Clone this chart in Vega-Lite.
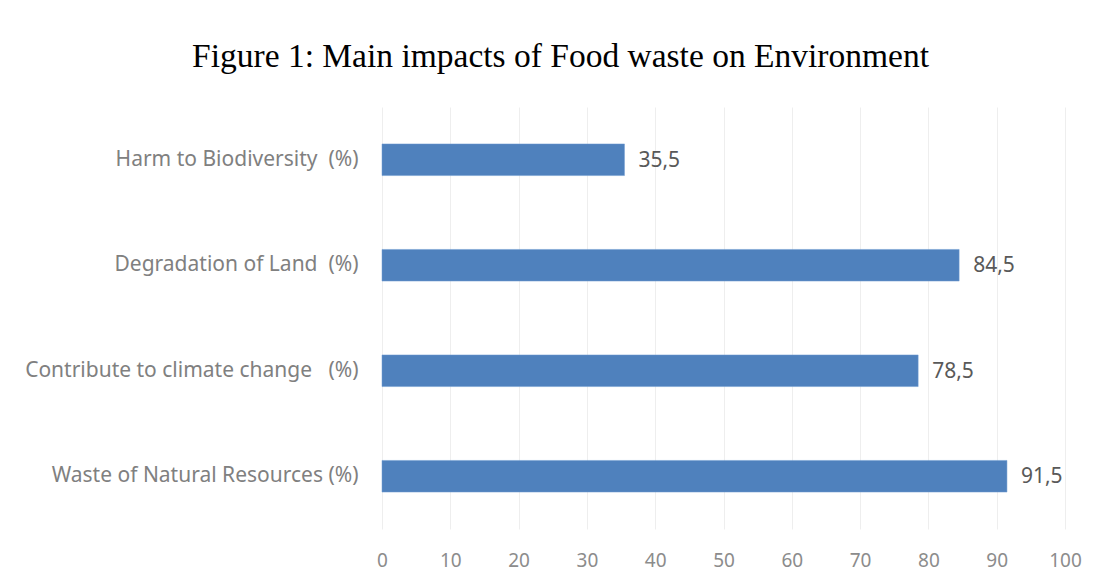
{
  "$schema": "https://vega.github.io/schema/vega-lite/v6.json",
  "width": 683,
  "height": 422,
  "autosize": {"type": "none"},
  "padding": {"left": 382, "top": 107, "right": 32, "bottom": 52},
  "background": "white",
  "config": {
    "view": {"stroke": null},
    "locale": {"number": {"decimal": ",", "thousands": ".", "grouping": [3], "currency": ["", " €"]}}
  },
  "title": {
    "text": "Figure 1: Main impacts of Food waste on Environment",
    "font": "Liberation Serif",
    "fontSize": 33.5,
    "fontWeight": "normal",
    "color": "#000000",
    "anchor": "middle",
    "dx": -163,
    "offset": 33
  },
  "data": {
    "values": [
      {"impact": "Harm to Biodiversity \u00a0(%)", "value": 35.5},
      {"impact": "Degradation of Land \u00a0(%)", "value": 84.5},
      {"impact": "Contribute to climate change \u00a0\u00a0(%)", "value": 78.5},
      {"impact": "Waste of Natural Resources (%)", "value": 91.5}
    ]
  },
  "encoding": {
    "y": {
      "field": "impact",
      "type": "nominal",
      "sort": null,
      "scale": {"paddingInner": 0.7, "paddingOuter": 0.35},
      "axis": {
        "title": null,
        "domain": false,
        "ticks": false,
        "labelPadding": 24,
        "labelFont": "Noto Sans",
        "labelFontSize": 21,
        "labelColor": "#808080",
        "labelLimit": 400
      }
    },
    "x": {
      "field": "value",
      "type": "quantitative",
      "scale": {"domain": [0, 100]},
      "axis": {
        "title": null,
        "values": [0, 10, 20, 30, 40, 50, 60, 70, 80, 90, 100],
        "domain": false,
        "ticks": false,
        "grid": true,
        "gridColor": "#eeeeee",
        "labelPadding": 22,
        "labelFont": "Noto Sans",
        "labelFontSize": 19,
        "labelColor": "#8c8c8c",
        "labelFlush": false
      }
    }
  },
  "layer": [
    {"mark": {"type": "bar", "color": "#4F81BD", "stroke": "#6f9bd0", "strokeWidth": 0.5}},
    {
      "mark": {"type": "text", "align": "left", "baseline": "middle", "dx": 14, "dy": 1, "font": "Noto Sans", "fontSize": 21, "color": "#595959"},
      "encoding": {"text": {"field": "value", "type": "quantitative", "format": ".1f"}}
    }
  ]
}
